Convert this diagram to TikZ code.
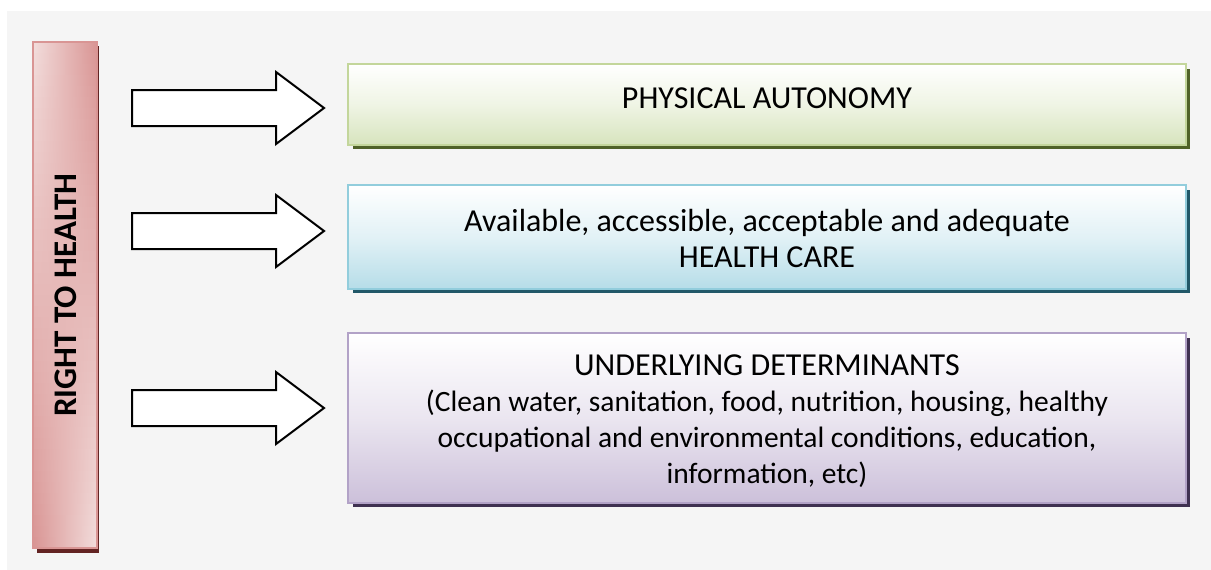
\documentclass[tikz,border=0pt]{standalone}
\usepackage{fontspec}
\setmainfont{Carlito}
\definecolor{bg}{HTML}{F5F5F5}
\definecolor{pinkL}{HTML}{F2DCDB}
\definecolor{pinkD}{HTML}{D99594}
\definecolor{pinkS}{HTML}{632423}
\definecolor{grnB}{HTML}{C3D69B}
\definecolor{grnF}{HTML}{D7E4BD}
\definecolor{grnS}{HTML}{4F6228}
\definecolor{bluB}{HTML}{92CDDC}
\definecolor{bluF}{HTML}{B6DDE8}
\definecolor{bluS}{HTML}{215868}
\definecolor{purB}{HTML}{B2A2C7}
\definecolor{purF}{HTML}{CCC0DA}
\definecolor{purS}{HTML}{3F3151}
\newcommand{\smallline}{\fontsize{29.5}{36}\selectfont}
\tikzset{
  x=1pt, y=-1pt,
  txt/.style={font=\fontsize{32}{36}\selectfont, align=center, text=black},
  blockarrow/.style={draw=black, line width=2pt, fill=white, line join=miter},
}
\begin{document}
\begin{tikzpicture}
\useasboundingbox (0,0) rectangle (1211,570);
\fill[white] (0,0) rectangle (1211,570);
\fill[bg] (7,11) rectangle (1211,570);
% left bar
\fill[pinkS] (37,46) rectangle (99,553);
\foreach \i in {0,...,45}{
  \pgfmathsetmacro{\tl}{100*\i/45}
  \pgfmathsetmacro{\tr}{100-\tl}
  \pgfmathsetmacro{\ya}{42+\i*11}
  \pgfmathsetmacro{\yb}{min(548,\ya+12)}
  \colorlet{cl}{pinkD!\tl!pinkL}
  \colorlet{cr}{pinkD!\tr!pinkL}
  \fill[left color=cl, right color=cr] (33,\ya) rectangle (97,\yb);
}
\draw[pinkD, line width=1.5pt] (33,42) rectangle (97,548);
\node[font=\fontsize{33}{36}\selectfont\bfseries, rotate=90] (rth) at (66,295) {RIGHT TO HEALTH};
% boxes
\fill[grnS] (353,69) rectangle (1190,149);
\fill[top color=white, bottom color=grnF, middle color=white!60!grnF, draw=grnB, line width=2.5pt] (348,64) rectangle (1186,145);
\fill[bluS] (353,190) rectangle (1190,293);
\fill[top color=white, bottom color=bluF, middle color=white!60!bluF, draw=bluB, line width=2.5pt] (348,185) rectangle (1186,289);
\fill[purS] (353,338) rectangle (1190,507);
\fill[top color=white, bottom color=purF, middle color=white!60!purF, draw=purB, line width=2.5pt] (348,333) rectangle (1186,503);
\node[txt] (b1) at (767,98) {PHYSICAL AUTONOMY};
\node[txt] (b2) at (767,238) {Available, accessible, acceptable and adequate\\HEALTH CARE};
\node[txt] (b3) at (767,421) {UNDERLYING DETERMINANTS\\\smallline(Clean water, sanitation, food, nutrition, housing, healthy\\\smallline occupational and environmental conditions, education,\\\smallline information, etc)};
% arrows
\foreach \c in {108, 231, 408}{
  \draw[blockarrow] (132,\c-18) -- (276,\c-18) -- (276,\c-36) -- (324,\c) -- (276,\c+36) -- (276,\c+18) -- (132,\c+18) -- cycle;
}
\end{tikzpicture}
\end{document}
